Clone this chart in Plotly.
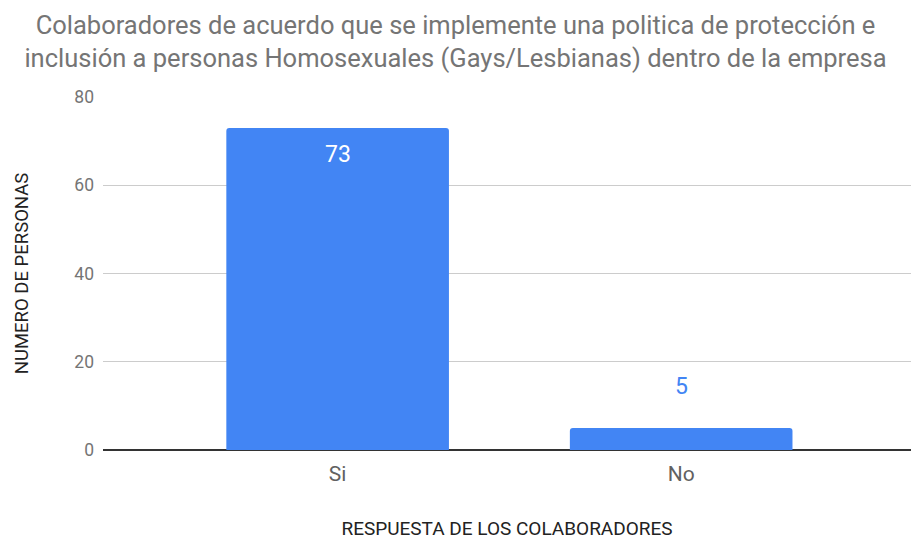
import plotly.graph_objects as go

# Survey responses
categorias = ["Si", "No"]
personas = [73, 5]
y_ticks = [0, 20, 40, 60, 80]

titulo = ("Colaboradores de acuerdo que se implemente una politica de protección e<br>"
          "inclusión a personas Homosexuales (Gays/Lesbianas) dentro de la empresa")

AZUL = "#4285F4"
FONT = "Roboto, Arial, sans-serif"

fig = go.Figure(
    go.Bar(
        x=categorias,
        y=personas,
        marker=dict(color=AZUL, line=dict(width=0)),
        width=0.648,
        hoverinfo="x+y",
    )
)

# value labels: inside near the top for the tall bar, above for the short one
label_style = [
    dict(color="white", yshift=-27),
    dict(color=AZUL, yshift=41),
]
for cat, val, st in zip(categorias, personas, label_style):
    fig.add_annotation(
        x=cat, y=val, text=str(val), showarrow=False,
        yshift=st["yshift"],
        font=dict(family=FONT, size=23, color=st["color"]),
    )

fig.update_layout(
    width=911, height=540,
    margin=dict(l=103, r=0, t=97, b=90),
    paper_bgcolor="white", plot_bgcolor="white",
    barcornerradius=3,
    showlegend=False,
    title=dict(
        text=titulo,
        x=0.5, xanchor="center",
        y=1 - 34 / 540, yanchor="middle", yref="container",
        font=dict(family=FONT, size=25.5, color="#757575"),
    ),
    xaxis=dict(
        range=[-0.683, 1.669],
        showgrid=False, showline=False, zeroline=False,
        tickfont=dict(family=FONT, size=21, color="#616161"),
        ticklabelstandoff=9,
        title=dict(text="RESPUESTA DE LOS COLABORADORES", standoff=40,
                   font=dict(family=FONT, size=19, color="#222222")),
    ),
    yaxis=dict(
        range=[0, 80], tickvals=y_ticks,
        showgrid=True, gridcolor="#cccccc", gridwidth=1,
        zeroline=True, zerolinecolor="#333333", zerolinewidth=1.5,
        showline=False,
        tickfont=dict(family=FONT, size=17.5, color="#757575"),
        ticklabelstandoff=8,
        title=dict(text="NUMERO DE PERSONAS", standoff=40,
                   font=dict(family=FONT, size=18.5, color="#222222")),
    ),
)

fig.write_html("out.html")
